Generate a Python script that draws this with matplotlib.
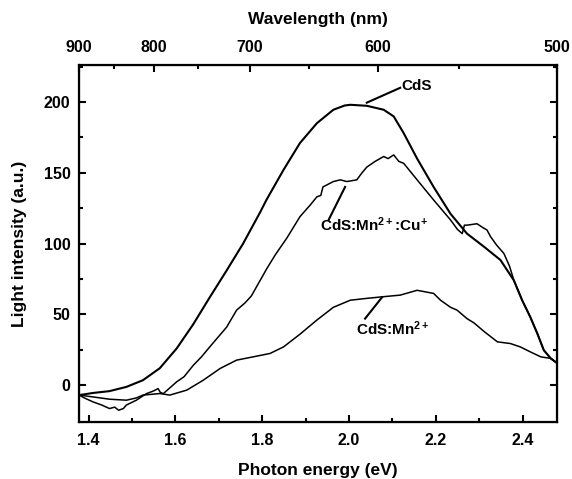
import numpy as np
import matplotlib.pyplot as plt

plt.rcParams['font.family'] = ['Liberation Sans', 'DejaVu Sans']
plt.rcParams['font.weight'] = 'bold'
plt.rcParams['mathtext.fontset'] = 'custom'
plt.rcParams['mathtext.rm'] = 'Liberation Sans:bold'
plt.rcParams['mathtext.bf'] = 'Liberation Sans:bold'
plt.rcParams['mathtext.default'] = 'bf'

# photon energy (eV) / intensity (a.u.)
cds_x = [1.378, 1.41, 1.448, 1.487, 1.525, 1.564, 1.603, 1.641, 1.679, 1.718,
         1.756, 1.795, 1.81, 1.849, 1.887, 1.926, 1.964, 1.99, 2.003, 2.041,
         2.08, 2.103, 2.126, 2.157, 2.195, 2.234, 2.272, 2.311, 2.349, 2.38,
         2.399, 2.418, 2.434, 2.449, 2.465, 2.48]
cds_y = [-7, -5.5, -4.2, -1.2, 3.5, 12, 26, 43, 62, 81,
         100, 122, 131, 152, 171, 185, 194.5, 197.5, 198, 197.3,
         194.5, 189.8, 178, 160, 140, 121, 107, 97.8, 88.4, 74,
         60, 48, 36.5, 24.7, 18.9, 15.5]

cu_x = [1.378, 1.39, 1.41, 1.43, 1.448, 1.46, 1.469, 1.48, 1.487, 1.51,
        1.533, 1.55, 1.56, 1.565, 1.572, 1.603, 1.62, 1.641, 1.66, 1.679,
        1.718, 1.741, 1.76, 1.775, 1.81, 1.83, 1.857, 1.887, 1.91, 1.926,
        1.935, 1.94, 1.964, 1.98, 1.995, 2.018, 2.03, 2.041, 2.06, 2.08,
        2.09, 2.103, 2.115, 2.126, 2.157, 2.195, 2.234, 2.25, 2.261, 2.266,
        2.272, 2.295, 2.31, 2.318, 2.326, 2.34, 2.357, 2.37, 2.38, 2.399,
        2.418, 2.434, 2.449, 2.465, 2.48]
cu_y = [-7, -9, -11.8, -14, -16.5, -15.5, -17.7, -16.5, -14, -10.6,
        -6, -4, -2.4, -5, -6, 2.4, 6, 14, 20, 27,
        41, 53, 58, 63, 82, 92, 104, 119, 127, 133,
        134, 140, 143.8, 145, 143.8, 145, 150, 154, 158, 161.5,
        160, 162.6, 158, 156.7, 145, 130.8, 116.7, 110, 107, 113,
        113, 114, 111, 109.6, 105, 99, 93, 84, 74, 60,
        48, 36.5, 24.7, 18.9, 15.5]

mn_x = [1.378, 1.41, 1.448, 1.487, 1.51, 1.525, 1.564, 1.587, 1.626, 1.664,
        1.703, 1.741, 1.779, 1.818, 1.849, 1.887, 1.926, 1.964, 2.003, 2.041,
        2.08, 2.118, 2.157, 2.195, 2.211, 2.234, 2.249, 2.272, 2.288, 2.311,
        2.342, 2.372, 2.395, 2.418, 2.442, 2.465, 2.48]
mn_y = [-7, -8.3, -9.9, -10.6, -9, -7, -5.9, -7, -3.5, 3.5,
        11.8, 17.7, 20, 22.4, 27, 36, 46, 55, 60, 61.3,
        62.5, 63.6, 67, 64.8, 60, 55, 53, 47, 44, 38,
        30.6, 29.4, 27, 23.5, 20, 18.9, 15.5]

wavelengths = [900, 800, 700, 600, 500]
wavelengths_minor = [850, 750, 650, 550]
HC = 1239.84

fig = plt.figure(figsize=(5.72, 4.79), dpi=100)
ax = fig.add_axes([0.138, 0.119, 0.836, 0.745])

ax.plot(cds_x, cds_y, color='black', lw=1.5)
ax.plot(cu_x, cu_y, color='black', lw=1.1)
ax.plot(mn_x, mn_y, color='black', lw=1.1)

ax.set_xlim(HC / 900, HC / 500)
ax.set_ylim(-26, 226)
ax.set_xticks(np.arange(1.4, 2.41, 0.2))
ax.set_xticks(np.arange(1.5, 2.41, 0.2), minor=True)
ax.set_yticks([0, 50, 100, 150, 200])
ax.set_yticks([25, 75, 125, 175, 225], minor=True)
ax.xaxis.set_major_formatter(plt.FuncFormatter(lambda v, _: f'{v:.1f}'))

ax.tick_params(which='both', direction='in', width=1.5, labelsize=11.5,
               right=True, top=False)
ax.tick_params(axis='x', pad=8)
ax.tick_params(axis='y', pad=6)
ax.tick_params(which='major', length=5)
ax.tick_params(which='minor', length=3)
for s in ax.spines.values():
    s.set_linewidth(1.6)

ax2 = ax.twiny()
ax2.set_xlim(ax.get_xlim())
ax2.set_xticks([HC / w for w in wavelengths])
ax2.set_xticklabels([str(w) for w in wavelengths])
ax2.set_xticks([HC / w for w in wavelengths_minor], minor=True)
ax2.tick_params(which='both', direction='in', width=1.5, labelsize=11.5, pad=7)
ax2.tick_params(which='major', length=5)
ax2.tick_params(which='minor', length=3)
ax2.set_xlabel('Wavelength (nm)', fontsize=12.5, fontweight='bold', labelpad=12)

ax.set_xlabel('Photon energy (eV)', fontsize=12.5, fontweight='bold', labelpad=11)
ax.set_ylabel('Light intensity (a.u.)', fontsize=12.5, fontweight='bold', labelpad=12)

# leader lines + labels
ax.plot([2.041, 2.118], [199.5, 210], color='black', lw=1.5)
ax.text(2.121, 211, 'CdS', fontsize=11, fontweight='bold', ha='left', va='center')

ax.plot([1.953, 1.991], [116.7, 140], color='black', lw=1.5)
ax.text(2.058, 113, r'CdS:Mn$^{2+}$:Cu$^{+}$', fontsize=11, fontweight='bold',
        ha='center', va='center')

ax.plot([2.037, 2.076], [47, 62], color='black', lw=1.5)
ax.text(2.102, 40, r'CdS:Mn$^{2+}$', fontsize=11, fontweight='bold',
        ha='center', va='center')

fig.savefig('out.png', dpi=100)
